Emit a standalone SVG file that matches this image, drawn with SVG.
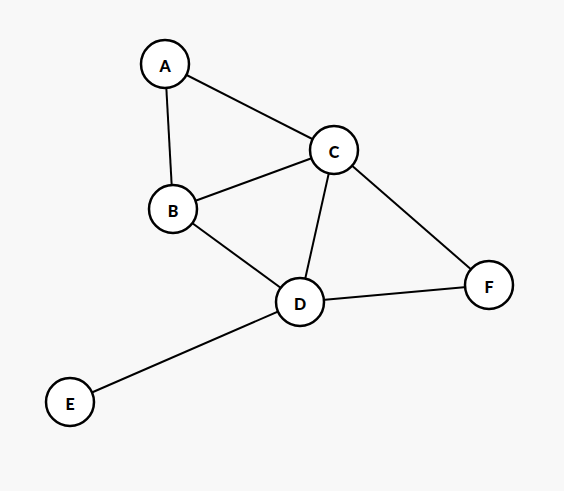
<svg xmlns="http://www.w3.org/2000/svg" width="564" height="491" viewBox="0 0 564 491">
<style>
.n circle{fill:#fff;stroke:#000;stroke-width:2.5}
.n text{font-family:Lato,"Liberation Sans",sans-serif;font-weight:900;font-size:16px;text-anchor:middle;dominant-baseline:central;fill:#000}
#edges line{stroke:#000;stroke-width:2}
</style>
<rect width="564" height="491" fill="#f8f8f8"/>
<g id="edges">
<line x1="165" y1="64" x2="334" y2="150"/>
<line x1="165" y1="64" x2="173" y2="209"/>
<line x1="173" y1="209" x2="334" y2="150"/>
<line x1="173" y1="209" x2="300" y2="302"/>
<line x1="334" y1="150" x2="300" y2="302"/>
<line x1="334" y1="150" x2="489" y2="285"/>
<line x1="300" y1="302" x2="489" y2="285"/>
<line x1="300" y1="302" x2="70" y2="402"/>
</g>
<g id="A" class="n"><circle cx="165" cy="64" r="24"/><text x="165" y="65">A</text></g>
<g id="B" class="n"><circle cx="173" cy="209" r="24"/><text x="173" y="210">B</text></g>
<g id="C" class="n"><circle cx="334" cy="150" r="24"/><text x="334" y="151">C</text></g>
<g id="D" class="n"><circle cx="300" cy="302" r="24"/><text x="300" y="303">D</text></g>
<g id="E" class="n"><circle cx="70" cy="402" r="24"/><text x="70" y="403">E</text></g>
<g id="F" class="n"><circle cx="489" cy="285" r="24"/><text x="489" y="286">F</text></g>
</svg>
